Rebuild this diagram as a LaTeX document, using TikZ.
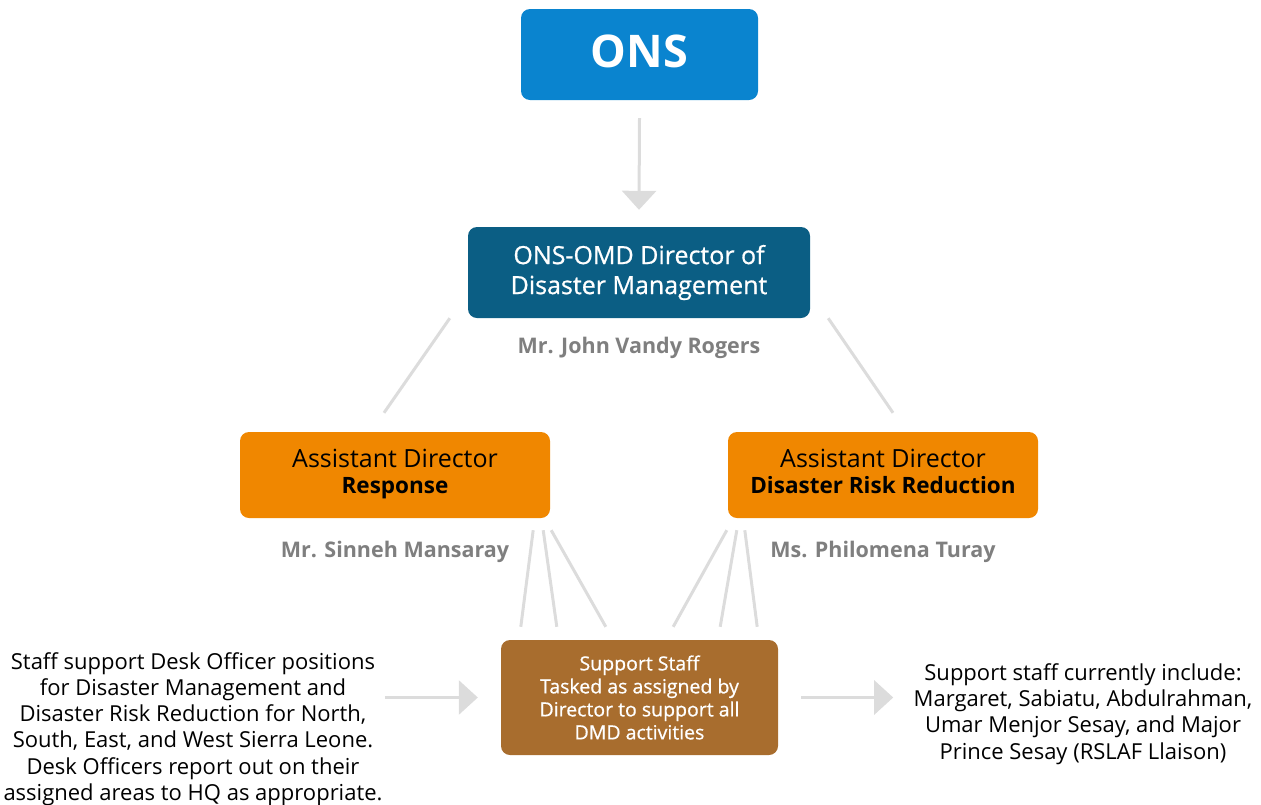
\documentclass[tikz,border=0pt]{standalone}
\usepackage{fontspec}
\setmainfont{Open Sans}
\newfontfamily\semib{Open Sans}[FakeBold=0.7]
\usepackage{xcolor}
\usetikzlibrary{arrows.meta,positioning,calc}
\definecolor{onsblue}{HTML}{0A84CF}
\definecolor{dirblue}{HTML}{0B5E84}
\definecolor{adorange}{HTML}{F08700}
\definecolor{staffbrown}{HTML}{A86D2E}
\definecolor{namegray}{HTML}{7F7F7F}
\definecolor{linkgray}{HTML}{DCDCDC}
\tikzset{
  box/.style={rounded corners=9pt,align=center,inner sep=0pt},
  boxons/.style={box,fill=onsblue,text=white,minimum width=237pt,minimum height=91pt,text depth=6pt,font=\fontsize{45}{50}\selectfont\bfseries},
  boxdir/.style={box,fill=dirblue,text=white,minimum width=342pt,minimum height=91pt,font=\fontsize{25}{30}\semib},
  boxad/.style={box,fill=adorange,text=black,minimum width=310pt,minimum height=86pt,text depth=8pt,font=\fontsize{25}{26}\selectfont},
  boxst/.style={box,fill=staffbrown,text=white,minimum width=277pt,minimum height=115pt,font=\fontsize{19.5}{23}\semib},
  who/.style={font=\fontsize{21.5}{24}\selectfont\bfseries,text=namegray,inner sep=0pt},
  note/.style={font=\fontsize{22}{26.2}\selectfont,align=center,inner sep=0pt},
  link/.style={draw=linkgray,line width=3pt},
  arr/.style={link,-{Triangle[length=19pt,width=34pt]}},
}
\newcommand{\adrole}[1]{{\fontsize{22.5}{26}\selectfont\bfseries #1}}
\begin{document}
\begin{tikzpicture}[x=1pt,y=-1pt]
\useasboundingbox (0,0) rectangle (1261,804);
\clip (0,0) rectangle (1261,804);
% top
\node[boxons] (ons) at (639.5,54.5) {ONS};
\node[boxdir] (dir) at (639,272.5) {ONS-OMD Director of\\Disaster Management};
\node[who,below=19pt of dir] (dirn) {Mr. John Vandy Rogers};
\draw[arr] ($(ons.south)+(0,18)$) -- ($(dir.north)+(0,-17)$);
% assistant directors
\node[boxad] (adr) at (395,475) {Assistant Director\\\adrole{Response}};
\node[boxad] (add) at (883,475) {Assistant Director\\\adrole{Disaster Risk Reduction}};
\node[who,below=23pt of adr] (adrn) {Mr. Sinneh Mansaray};
\node[who,below=23pt of add] (addn) {Ms. Philomena Turay};
\draw[link] ($(dir.south west)+(-18,0)$) -- ($(adr.north)+(-11,-19)$);
\draw[link] ($(dir.south east)+(18,0)$) -- ($(add.north)+(10,-19)$);
% support staff
\node[boxst] (staff) at (639.5,697.5) {Support Staff\\Tasked as assigned by\\Director to support all\\DMD activities};
\draw[link] ($(adr.south east)+(-17,12)$) -- ($(staff.north west)+(20,-13)$);
\draw[link] ($(adr.south east)+(-7,12)$) -- ($(staff.north west)+(56,-13)$);
\draw[link] ($(adr.south east)+(1,12)$) -- ($(staff.north west)+(105,-13)$);
\draw[link] ($(add.south west)+(-1,12)$) -- ($(staff.north east)+(-105,-13)$);
\draw[link] ($(add.south west)+(9,12)$) -- ($(staff.north east)+(-58,-13)$);
\draw[link] ($(add.south west)+(17,12)$) -- ($(staff.north east)+(-21,-13)$);
% side notes
\node[note] (left) at (193,729) {Staff support Desk Officer positions\\for Disaster Management and\\Disaster Risk Reduction for North,\\South, East, and West Sierra Leone.\\Desk Officers report out on their\\assigned areas to HQ as appropriate.};
\node[note] (right) at (1083,714) {Support staff currently include:\\Margaret, Sabiatu, Abdulrahman,\\Umar Menjor Sesay, and Major\\Prince Sesay (RSLAF Llaison)};
\draw[arr] ($(staff.west)+(-116,0)$) -- ($(staff.west)+(-23,0)$);
\draw[arr] ($(staff.east)+(23,0)$) -- ($(staff.east)+(115,0)$);
\end{tikzpicture}
\end{document}
